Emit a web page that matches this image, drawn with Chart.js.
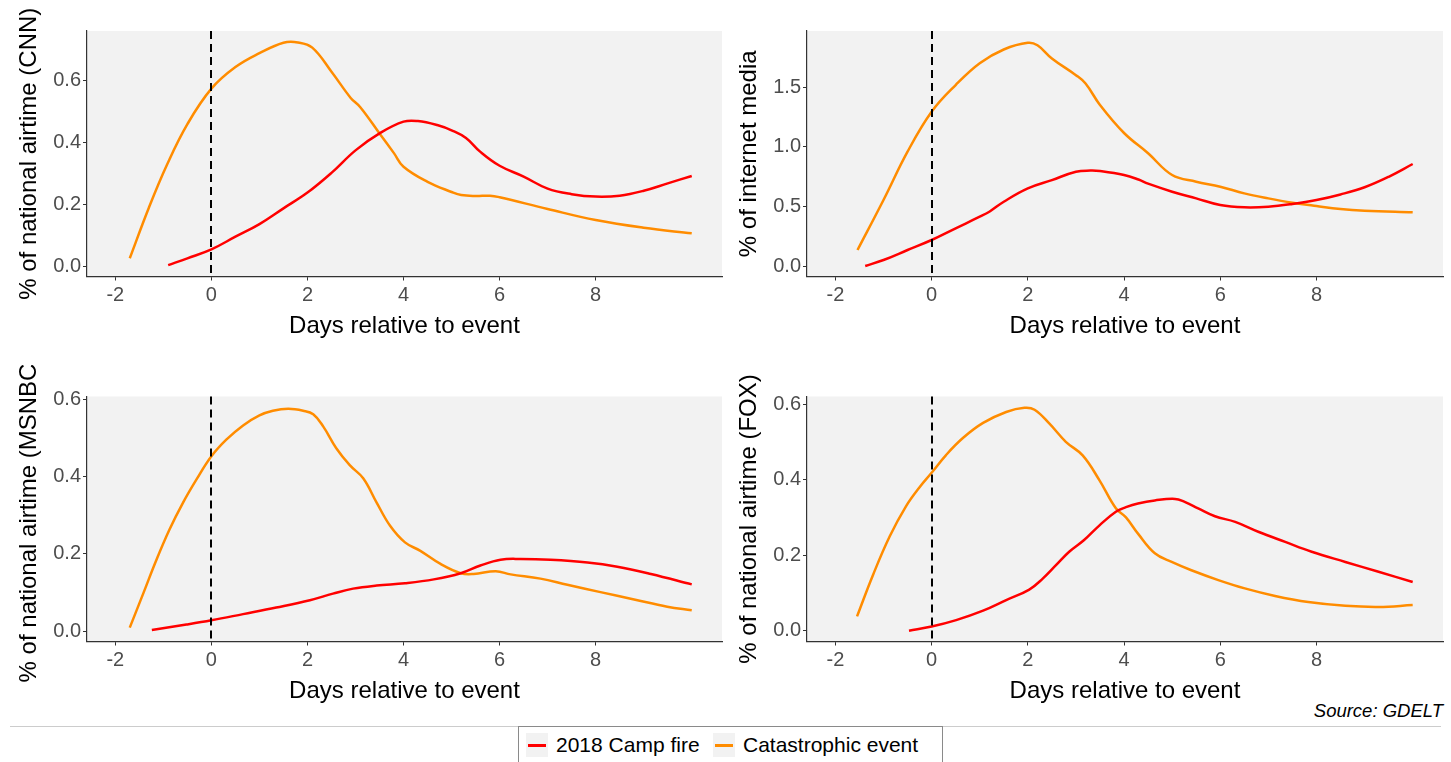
<!doctype html>
<meta charset="utf-8">
<title>Coverage after catastrophic events</title>
<style>
    body {
        margin: 0;
        background: #fff;
        font-family: "Liberation Sans", Arial, sans-serif;
    }
    #page {
        position: relative;
        width: 1451px;
        height: 762px;
        overflow: hidden;
    }
    .panel {
        position: absolute;
    }
    #source {
        position: absolute;
        right: 8px;
        top: 700px;
        font-size: 18.5px;
        line-height: 22px;
        font-style: italic;
        color: #000;
    }
    #rule {
        position: absolute;
        left: 10px;
        top: 726px;
        width: 1431px;
        height: 1px;
        background: #cccccc;
    }
    #legend {
        position: absolute;
        left: 518px;
        top: 726px;
        width: 425px;
        height: 50px;
        box-sizing: border-box;
        border: 1px solid #8a8a8a;
        background: #fff;
    }
    .key {
        position: absolute;
        top: 6px;
        width: 22px;
        height: 24px;
        background: #f2f2f2;
    }
    .key span {
        position: absolute;
        left: 2px;
        right: 2px;
        top: 11px;
        height: 2.5px;
    }
    .label {
        position: absolute;
        top: 6px;
        line-height: 24px;
        font-size: 21px;
        color: #000;
    }
</style>
<body>
<div id="page">
    <div id="source">Source: GDELT</div>
    <div id="rule"></div>
    <div id="legend"></div>
</div>
<script src="https://cdn.jsdelivr.net/npm/chart.js@4.4.0/dist/chart.umd.min.js"></script>
<script>
    // days relative to the event
    const xTicks = [-2, 0, 2, 4, 6, 8];
    const seriesNames = ["2018 Camp fire", "Catastrophic event"];

    const cnnFireX = [-0.9, -0.5, 0, 0.5, 1, 1.5, 2, 2.5, 3, 3.5, 4, 4.3, 4.7, 5, 5.3, 5.6, 6, 6.5, 7, 7.5, 8, 8.5, 9, 9.5, 10];
    const cnnFireY = [0.003, 0.025, 0.054, 0.095, 0.136, 0.187, 0.238, 0.302, 0.375, 0.43, 0.468, 0.47, 0.457, 0.44, 0.415, 0.37, 0.325, 0.29, 0.251, 0.233, 0.225, 0.228, 0.244, 0.268, 0.292];
    const cnnEventX = [-1.7, -1.3, -0.92, -0.5, 0, 0.5, 1, 1.5, 1.8, 2.1, 2.5, 2.9, 3.1, 3.5, 3.8, 4, 4.5, 5, 5.2, 5.5, 5.8, 6, 7, 8, 9, 10];
    const cnnEventY = [0.025, 0.19, 0.33, 0.46, 0.575, 0.645, 0.69, 0.724, 0.725, 0.708, 0.63, 0.545, 0.515, 0.43, 0.366, 0.322, 0.273, 0.24, 0.23, 0.227, 0.228, 0.223, 0.185, 0.149, 0.124, 0.106];

    const webFireX = [-1.38, -1, -0.5, 0, 0.5, 1, 1.2, 1.5, 2, 2.5, 3, 3.3, 3.5, 4, 4.3, 4.5, 5, 5.5, 6, 6.5, 7, 7.5, 8, 8.5, 9, 9.5, 10];
    const webFireY = [0, 0.05, 0.134, 0.218, 0.316, 0.413, 0.455, 0.539, 0.651, 0.72, 0.79, 0.8, 0.796, 0.763, 0.725, 0.69, 0.623, 0.567, 0.511, 0.492, 0.497, 0.52, 0.553, 0.6, 0.66, 0.748, 0.855];
    const webEventX = [-1.54, -1, -0.5, 0, 0.5, 1, 1.5, 2, 2.2, 2.5, 3, 3.2, 3.5, 4, 4.5, 5, 5.5, 6, 6.5, 7, 7.5, 8, 8.5, 9, 10];
    const webEventY = [0.134, 0.553, 0.958, 1.293, 1.517, 1.7, 1.815, 1.871, 1.85, 1.74, 1.6, 1.53, 1.35, 1.115, 0.945, 0.763, 0.707, 0.665, 0.609, 0.567, 0.531, 0.503, 0.478, 0.464, 0.45];

    const msnbcFireX = [-1.24, -0.52, 0, 0.66, 1.35, 2.05, 2.53, 2.95, 3.44, 4.03, 4.63, 5.19, 5.6, 6.02, 6.44, 7.06, 7.83, 8.45, 9.15, 10];
    const msnbcFireY = [0.003, 0.017, 0.028, 0.044, 0.061, 0.08, 0.097, 0.11, 0.118, 0.124, 0.134, 0.15, 0.17, 0.185, 0.187, 0.185, 0.178, 0.167, 0.148, 0.121];
    const msnbcEventX = [-1.7, -1.42, -1.15, -0.87, -0.59, -0.31, 0, 0.31, 0.66, 1, 1.28, 1.6, 1.91, 2.12, 2.33, 2.6, 2.88, 3.16, 3.44, 3.72, 4.03, 4.35, 4.77, 5.19, 5.46, 5.92, 6.23, 6.85, 7.41, 8.1, 8.8, 9.49, 10];
    const msnbcEventY = [0.009, 0.097, 0.183, 0.264, 0.333, 0.393, 0.453, 0.496, 0.533, 0.559, 0.571, 0.576, 0.571, 0.562, 0.53, 0.474, 0.43, 0.396, 0.333, 0.273, 0.23, 0.208, 0.174, 0.15, 0.148, 0.155, 0.147, 0.136, 0.12, 0.101, 0.082, 0.063, 0.054];

    const foxFireX = [-0.47, 0, 0.51, 1.07, 1.55, 2.03, 2.31, 2.59, 2.86, 3.17, 3.49, 3.83, 4.04, 4.29, 4.64, 5.06, 5.26, 5.54, 5.89, 6.31, 6.79, 7.35, 7.9, 8.6, 9.29, 10];
    const foxFireY = [0, 0.011, 0.028, 0.053, 0.081, 0.109, 0.138, 0.174, 0.209, 0.24, 0.279, 0.315, 0.327, 0.337, 0.345, 0.349, 0.341, 0.324, 0.303, 0.288, 0.262, 0.235, 0.209, 0.182, 0.156, 0.129];
    const foxEventX = [-1.55, -1.22, -0.87, -0.53, -0.25, 0, 0.3, 0.65, 1.07, 1.55, 1.93, 2.14, 2.45, 2.79, 3.14, 3.49, 3.83, 4.04, 4.29, 4.64, 4.99, 5.4, 5.96, 6.51, 7.14, 7.83, 8.6, 9.29, 10];
    const foxEventY = [0.038, 0.147, 0.25, 0.33, 0.38, 0.418, 0.465, 0.51, 0.55, 0.579, 0.59, 0.585, 0.548, 0.5, 0.464, 0.398, 0.324, 0.3, 0.257, 0.205, 0.182, 0.16, 0.134, 0.112, 0.092, 0.076, 0.066, 0.063, 0.068];

    const shareTicks = [0, 0.2, 0.4, 0.6];
    const webTicks = [0, 0.5, 1, 1.5];

    const colors = ["#ff0000", "#ff8c00"];
    const panelGray = "#f2f2f2";
    const axisGray = "#333333";
    const tickText = "#4d4d4d";

    Chart.defaults.font.family = '"Liberation Sans", Arial, sans-serif';

    const toPoints = (xs, ys) => xs.map((x, i) => ({ x: x, y: ys[i] }));

    const panelBackground = {
        id: "panelBackground",
        beforeDraw(chart) {
            const { ctx, chartArea: a } = chart;
            ctx.save();
            ctx.fillStyle = panelGray;
            ctx.fillRect(a.left, a.top, a.right - a.left, a.bottom - a.top);
            ctx.restore();
        },
    };

    // dashed line on the day of the event
    const eventLine = {
        id: "eventLine",
        afterDatasetsDraw(chart) {
            const { ctx, chartArea: a } = chart;
            const x = Math.round(chart.scales.x.getPixelForValue(0));
            ctx.save();
            ctx.strokeStyle = "#000";
            ctx.lineWidth = 2;
            ctx.setLineDash([8, 5]);
            ctx.beginPath();
            ctx.moveTo(x, a.top);
            ctx.lineTo(x, a.bottom);
            ctx.stroke();
            ctx.restore();
        },
    };

    const plot = (p) => {
        const div = document.createElement("div");
        div.className = "panel";
        div.style.left = p.left + "px";
        div.style.top = p.top + "px";
        const canvas = document.createElement("canvas");
        canvas.width = p.width;
        canvas.height = 350;
        div.appendChild(canvas);
        document.querySelector("#page").appendChild(div);

        const tickStyle = {
            display: true,
            drawOnChartArea: false,
            drawTicks: true,
            tickLength: 4,
            color: axisGray,
            lineWidth: 1,
        };

        return new Chart(canvas.getContext("2d"), {
            type: "line",
            data: {
                datasets: [{
                    label: seriesNames[0],
                    data: toPoints(p.fire[0], p.fire[1]),
                    borderColor: colors[0],
                }, {
                    label: seriesNames[1],
                    data: toPoints(p.event[0], p.event[1]),
                    borderColor: colors[1],
                }],
            },
            options: {
                responsive: false,
                animation: false,
                events: [],
                layout: {
                    padding: { top: p.padTop, right: p.padRight, left: 0, bottom: 0 },
                },
                elements: {
                    point: { radius: 0 },
                    line: { borderWidth: 2.5, tension: 0.4 },
                },
                plugins: {
                    legend: { display: false },
                    tooltip: { enabled: false },
                },
                scales: {
                    x: {
                        type: "linear",
                        min: -2.59,
                        max: 10.63,
                        afterBuildTicks: (s) => { s.ticks = xTicks.map(v => ({ value: v })); },
                        afterFit: (s) => { s.height = 73.5; },
                        grid: tickStyle,
                        border: { display: true, color: axisGray, width: 1.2 },
                        ticks: {
                            color: tickText,
                            font: { size: 20 },
                            padding: 3,
                            maxRotation: 0,
                            callback: (v) => String(v),
                        },
                        title: {
                            display: true,
                            text: "Days relative to event",
                            color: "#000",
                            font: { size: 24 },
                            padding: { top: 0, bottom: 8.8 },
                        },
                    },
                    y: {
                        type: "linear",
                        min: p.yMin,
                        max: p.yMax,
                        afterBuildTicks: (s) => { s.ticks = p.yTicks.map(v => ({ value: v })); },
                        afterFit: (s) => { s.width = 87; },
                        grid: tickStyle,
                        border: { display: true, color: axisGray, width: 1.2 },
                        ticks: {
                            color: tickText,
                            font: { size: 20 },
                            padding: 2,
                            callback: (v) => v.toFixed(1),
                        },
                        title: {
                            display: true,
                            text: p.title,
                            color: "#000",
                            font: { size: 24 },
                            padding: { top: 15, bottom: 0 },
                        },
                    },
                },
            },
            plugins: [panelBackground, eventLine],
        });
    };

    plot({ left: 0, top: 0, width: 725, padTop: 31, padRight: 3, title: "% of national airtime (CNN)",
        yMin: -0.034, yMax: 0.762, yTicks: shareTicks, fire: [cnnFireX, cnnFireY], event: [cnnEventX, cnnEventY] });
    plot({ left: 720, top: 0, width: 731, padTop: 31, padRight: 8, title: "% of internet media",
        yMin: -0.088, yMax: 1.97, yTicks: webTicks, fire: [webFireX, webFireY], event: [webEventX, webEventY] });
    plot({ left: 0, top: 365, width: 725, padTop: 31.5, padRight: 3, title: "% of national airtime (MSNBC)",
        yMin: -0.027, yMax: 0.608, yTicks: shareTicks, fire: [msnbcFireX, msnbcFireY], event: [msnbcEventX, msnbcEventY] });
    plot({ left: 720, top: 365, width: 731, padTop: 31.5, padRight: 8, title: "% of national airtime (FOX)",
        yMin: -0.0285, yMax: 0.62, yTicks: shareTicks, fire: [foxFireX, foxFireY], event: [foxEventX, foxEventY] });

    // legend below the rule
    const legend = document.querySelector("#legend");
    const keyLeft = [7, 194];
    const labelLeft = [37, 224];
    seriesNames.forEach((name, i) => {
        const key = document.createElement("div");
        key.className = "key";
        key.style.left = keyLeft[i] + "px";
        const line = document.createElement("span");
        line.style.background = colors[i];
        key.appendChild(line);
        legend.appendChild(key);
        const label = document.createElement("div");
        label.className = "label";
        label.style.left = labelLeft[i] + "px";
        label.textContent = name;
        legend.appendChild(label);
    });
</script>
</body>
